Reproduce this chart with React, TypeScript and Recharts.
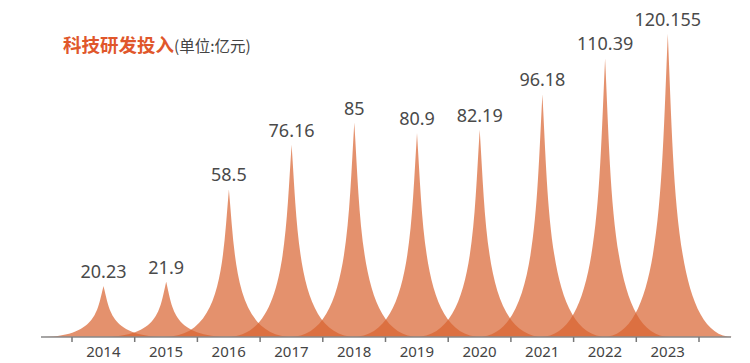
import React from 'react'
import { BarChart, Bar, XAxis, YAxis, LabelList } from 'recharts'

const years = ['2014', '2015', '2016', '2017', '2018', '2019', '2020', '2021', '2022', '2023']
const investment = [20.23, 21.9, 58.5, 76.16, 85, 80.9, 82.19, 96.18, 110.39, 120.155]

const data = years.map((year, i) => ({ year, value: investment[i] }))

const SPIKE = '#d9622f'

// concave spike, wider than the category band so neighbours overlap
const Spike = (props: any) => {
  const { x, y, width, height } = props
  if (!height || height <= 0) return null
  const cx = x + width / 2
  const hw = width * 1.03
  const u = hw / 5
  const v = height / 10
  const x0 = cx - hw
  const top = y
  const P = (px: number, py: number) => `${x0 + px * u},${top + py * v}`
  const d = `M${P(0, 10)} L${P(10, 10)} C${P(5.5, 10)} ${P(5.5, 5)} ${P(5, 0)} C${P(4.5, 5)} ${P(4.5, 10)} ${P(0, 10)} Z`
  return <path d={d} fill={SPIKE} fillOpacity={0.7} />
}

const YearTick = (props: any) => {
  const { x, y, payload, index } = props
  const off = payload && payload.offset ? payload.offset : 31.35
  return (
    <g>
      <line x1={x - off} y1={y} x2={x - off} y2={y + 5} stroke="#777" strokeWidth={1.5} />
      {index === years.length - 1 && (
        <line x1={x + off} y1={y} x2={x + off} y2={y + 5} stroke="#777" strokeWidth={1.5} />
      )}
      <text x={x} y={y + 15} dy="0.35em" textAnchor="middle" fontSize={15} fill="#444"
        fontFamily="'Noto Sans', sans-serif">
        {payload.value}
      </text>
    </g>
  )
}

export default function App() {
  return (
    <div style={{ position: 'absolute', left: 0, top: 0, width: 750, height: 363, background: '#fff' }}>
      <BarChart width={750} height={363} data={data} barCategoryGap="0%"
        margin={{ top: 9, right: 19, left: 41, bottom: 0 }}>
        <XAxis dataKey="year" height={26} padding={{ left: 31, right: 32 }}
          axisLine={{ stroke: '#888', strokeWidth: 1.5 }} tickLine={false}
          tickSize={0} tickMargin={0} tick={<YearTick />} interval={0} />
        <YAxis hide domain={[0, 130]} />
        <Bar dataKey="value" shape={<Spike />} isAnimationActive={false}>
          <LabelList dataKey="value" position="top" offset={8} fontSize={18} fill="#4a4a4a"
            fontFamily="'Noto Sans', sans-serif" />
        </Bar>
      </BarChart>
      <div style={{ position: 'absolute', left: 63, top: 32, whiteSpace: 'nowrap',
        fontFamily: "'Noto Sans CJK SC', sans-serif", lineHeight: '24px' }}>
        <span style={{ fontSize: 18.5, fontWeight: 'bold', color: '#e0572b' }}>科技研发投入</span>
        <span style={{ fontSize: 15.5, color: '#444' }}>(单位:亿元)</span>
      </div>
    </div>
  )
}
